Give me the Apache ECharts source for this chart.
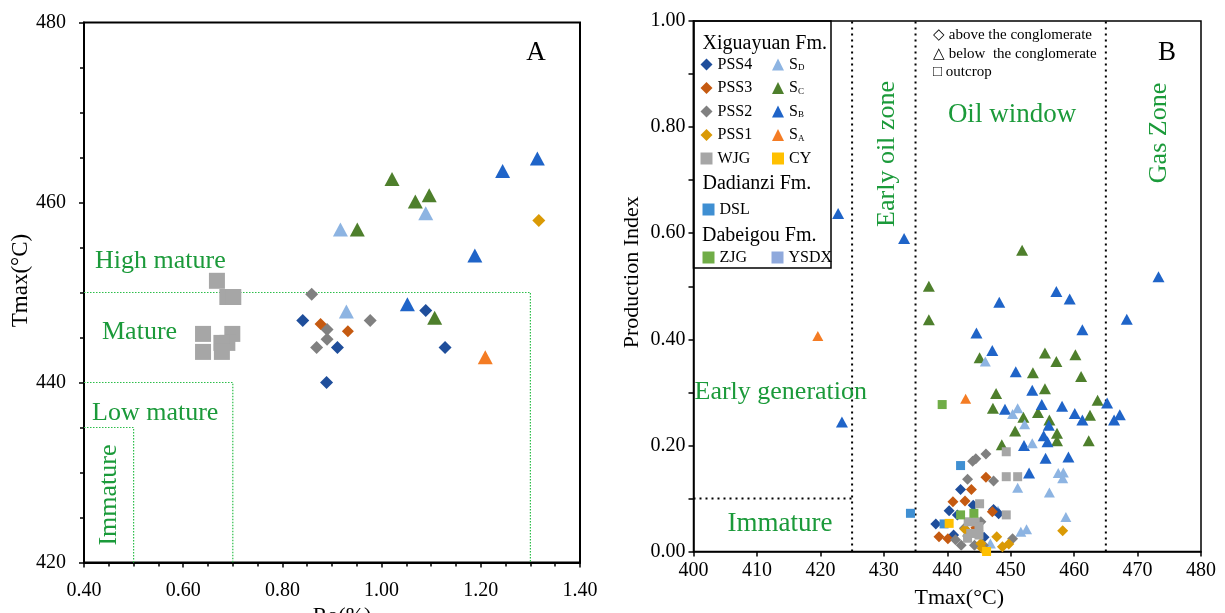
<!DOCTYPE html>
<html><head><meta charset="utf-8">
<script src="https://cdn.jsdelivr.net/npm/echarts@6/dist/echarts.min.js"></script>
<style>html,body{margin:0;padding:0;background:#fff}#c{width:1225px;height:613px}</style>
</head><body><div id="c"></div>
<script>
// ---------- Panel A data: [Ro(%), Tmax(°C)] ----------
const A_PSS4 = [[0.841,446.9],[0.889,440.0],[0.911,443.9],[1.089,448.0],[1.128,443.9]];
const A_PSS3 = [[0.877,446.5],[0.932,445.7]];
const A_PSS2 = [[0.859,449.8],[0.890,445.9],[0.890,444.8],[0.869,443.9],[0.977,446.9]];
const A_PSS1 = [[1.317,458.0]];
const A_SD = [[0.917,457.0],[0.929,447.9],[1.089,458.8]];
const A_SC = [[0.951,457.0],[1.021,462.6],[1.068,460.1],[1.096,460.8],[1.107,447.2]];
const A_SB = [[1.052,448.7],[1.188,454.1],[1.244,463.5],[1.314,464.9]];
const A_SA = [[1.209,442.8]];
const A_WJG = [[0.668,451.3],[0.689,449.5],[0.701,449.5],[0.640,445.4],[0.640,443.4],[0.699,445.4],[0.689,444.4],[0.677,444.4],[0.678,443.4]];

// ---------- Panel B data: [Tmax(°C), Production Index] ----------
const B_SB = [[422.8,0.637],[433.2,0.590],[423.4,0.244],[444.6,0.412],[447.1,0.379],[448.2,0.470],[450.8,0.339],[457.2,0.490],[459.3,0.476],[461.3,0.418],[468.3,0.438],[473.3,0.518],[453.4,0.304],[449.1,0.268],[454.9,0.277],[458.1,0.274],[460.1,0.260],[461.3,0.248],[465.2,0.280],[466.3,0.248],[467.2,0.258],[456.0,0.238],[455.2,0.218],[455.8,0.207],[452.1,0.200],[455.5,0.176],[459.1,0.178],[452.9,0.148]];
const B_SC = [[451.8,0.568],[437.1,0.500],[437.1,0.437],[445.1,0.365],[455.4,0.374],[457.2,0.358],[460.2,0.371],[453.5,0.337],[461.1,0.330],[447.7,0.298],[455.4,0.307],[447.2,0.270],[454.3,0.262],[452.0,0.253],[456.1,0.248],[463.7,0.285],[462.5,0.257],[450.7,0.227],[457.3,0.223],[457.3,0.209],[462.3,0.209],[448.6,0.201]];
const B_SD = [[446.0,0.358],[451.1,0.270],[450.3,0.259],[452.2,0.240],[453.4,0.204],[457.5,0.148],[458.3,0.149],[458.2,0.138],[451.1,0.120],[456.1,0.111],[458.7,0.065],[451.6,0.037],[452.5,0.042],[448.0,0.077],[446.8,0.015]];
const B_SA = [[419.6,0.406],[442.9,0.288]];
const B_PSS4 = [[442.1,0.117],[440.3,0.077],[438.2,0.052],[444.1,0.087],[447.3,0.079],[448.1,0.071],[441.0,0.031],[445.8,0.027],[441.6,0.069]];
const B_PSS3 = [[446.1,0.140],[443.8,0.117],[440.9,0.094],[442.8,0.095],[447.1,0.075],[438.7,0.028],[440.1,0.024],[444.5,0.045]];
const B_PSS2 = [[446.1,0.184],[444.0,0.170],[444.5,0.175],[443.2,0.136],[447.3,0.133],[441.3,0.022],[442.2,0.012],[443.2,0.029],[444.3,0.012],[442.7,0.044],[445.7,0.012],[450.3,0.024],[445.3,0.056]];
const B_PSS1 = [[458.2,0.039],[447.8,0.028],[448.7,0.009],[449.7,0.014],[442.8,0.042],[445.3,0.015],[445.5,0.006]];
const B_WJG = [[449.3,0.188],[449.3,0.141],[451.1,0.141],[445.1,0.090],[449.3,0.069],[444.4,0.056],[443.3,0.056],[443.7,0.034],[445.0,0.031],[443.2,0.025],[445.0,0.047]];
const B_ZJG = [[439.2,0.277],[442.1,0.069],[444.2,0.072]];
const B_DSL = [[442.1,0.162],[434.2,0.072],[439.5,0.052]];
const B_CY = [[446.2,0.0],[440.3,0.053]];
const B_YSDX = [];

// ---------- zone boundaries ----------
const A_ZONES = [
  [[0.4,435],[0.5,435],[0.5,420]],
  [[0.4,440],[0.7,440],[0.7,420]],
  [[0.4,450],[1.3,450],[1.3,420]]
];
const B_ZONES = [
  [[425,0],[425,1]],
  [[435,0],[435,1]],
  [[465,0],[465,1]],
  [[400,0.1],[425,0.1]]
];
// tick ranges
const A_X = {min:0.4, max:1.4, interval:0.2};
const A_Y = {min:420, max:480, interval:20};
const B_X = {min:400, max:480, interval:10};
const B_Y = {min:0, max:1, interval:0.2};

const COL = {
  PSS4:'#1F4E9B', PSS3:'#C55A11', PSS2:'#808080', PSS1:'#DA9A05', WJG:'#A6A6A6',
  SD:'#8DB4E2', SC:'#4E7F2C', SB:'#1F64C8', SA:'#F47C24', CY:'#FFC000',
  DSL:'#3F8FD2', ZJG:'#70AD47', YSDX:'#8FA9DC'
};
const FONT = 'Liberation Serif, Times New Roman, serif';
const GREEN = '#1B9A3A';

function sc(name, data, symbol, size, grid, z) {
  return {
    type:'scatter', name: name, data: data, symbol: symbol, symbolSize: size,
    xAxisIndex: grid, yAxisIndex: grid, z: z || 3, silent: true,
    itemStyle: {color: COL[name], opacity: 1}
  };
}
function guide(data, grid, style) {
  return {
    type:'line', data: data, xAxisIndex: grid, yAxisIndex: grid, symbol:'none',
    silent:true, z:1, lineStyle: style, animation:false
  };
}

const series = [];
A_ZONES.forEach(d => series.push(guide(d, 0, {color:'#2DBE4A', width:1.2, type:[1.5,1.5]})));
B_ZONES.forEach(d => series.push(guide(d, 1, {color:'#000', width:2, type:[2,4]})));

// Panel A
series.push(sc('WJG', A_WJG, 'rect', 16, 0, 3));
series.push(sc('SC', A_SC, 'triangle', [15,14], 0, 4));
series.push(sc('SB', A_SB, 'triangle', [15,14], 0, 4));
series.push(sc('SD', A_SD, 'triangle', [15,14], 0, 4));
series.push(sc('SA', A_SA, 'triangle', [15,14], 0, 4));
series.push(sc('PSS2', A_PSS2, 'diamond', 13, 0, 5));
series.push(sc('PSS4', A_PSS4, 'diamond', 13, 0, 5));
series.push(sc('PSS3', A_PSS3, 'diamond', 12, 0, 5));
series.push(sc('PSS1', A_PSS1, 'diamond', 13, 0, 5));

// Panel B
series.push(sc('SC', B_SC, 'triangle', [12,11], 1, 3));
series.push(sc('SB', B_SB, 'triangle', [12,11], 1, 3));
series.push(sc('SD', B_SD, 'triangle', [11,10], 1, 3));
series.push(sc('SA', B_SA, 'triangle', [11,10], 1, 3));
series.push(sc('PSS4', B_PSS4, 'diamond', 11, 1, 4));
series.push(sc('PSS3', B_PSS3, 'diamond', 11, 1, 4));
series.push(sc('PSS2', B_PSS2, 'diamond', 11, 1, 4));
series.push(sc('PSS1', B_PSS1, 'diamond', 11, 1, 4));
series.push(sc('WJG', B_WJG, 'rect', 9, 1, 5));
series.push(sc('ZJG', B_ZJG, 'rect', 9, 1, 5));
series.push(sc('DSL', B_DSL, 'rect', 9, 1, 5));
series.push(sc('CY', B_CY, 'rect', 9, 1, 5));
series.push(sc('YSDX', B_YSDX, 'rect', 9, 1, 5));

function axisCommon(extra) {
  return Object.assign({
    type:'value',
    axisLine:{show:true, onZero:false, lineStyle:{color:'#000', width:2}},
    axisTick:{show:true, inside:false, length:5, lineStyle:{color:'#000', width:1.5}},
    splitLine:{show:false},
    axisLabel:{fontFamily:FONT, fontSize:20, color:'#000'},
    nameLocation:'middle',
    nameTextStyle:{fontFamily:FONT, fontSize:22, color:'#000'}
  }, extra);
}

const legendBase = {
  orient:'vertical', padding:0, itemWidth:12, itemHeight:12, itemGap:7.5,
  selectedMode:false, z:20,
  textStyle:{fontFamily:FONT, fontSize:16, color:'#000',
    rich:{ m:{fontFamily:FONT, fontSize:16, color:'#000', verticalAlign:'bottom', lineHeight:16},
           s:{fontFamily:FONT, fontSize:9, color:'#000', verticalAlign:'bottom', lineHeight:12} } },
  formatter: n => (/^S[A-D]$/.test(n) ? '{m|S}{s|' + n[1] + '}' : n)
};
function lg(extra) { return Object.assign({}, legendBase, extra); }

function txt(text, x, y, size, color, opts) {
  return Object.assign({
    type:'text', x:x, y:y, silent:true, z:100,
    style:{text:text, fontFamily:FONT, fontSize:size, fill:color,
           align:(opts && opts.align) || 'left', verticalAlign:'middle'}
  }, opts && opts.rot ? {rotation: opts.rot} : {});
}

const option = {
  animation:false,
  backgroundColor:'#fff',
  grid:[
    {left:84, top:22.5, width:496, height:540, show:true, borderColor:'#000', borderWidth:2, backgroundColor:'transparent', containLabel:false, outerBoundsMode:'none'},
    {left:693.5, top:21, width:507.5, height:530.5, show:true, borderColor:'#000', borderWidth:1.5, backgroundColor:'transparent', containLabel:false, outerBoundsMode:'none'}
  ],
  xAxis:[
    axisCommon({gridIndex:0, min:A_X.min, max:A_X.max, interval:A_X.interval,
      minorTick:{show:true, splitNumber:4, length:4, lineStyle:{color:'#000', width:1.5}},
      axisLabel:{fontFamily:FONT, fontSize:20, color:'#000', margin:18, formatter:v=>v.toFixed(2)},
      name:'Ro(%)', nameGap:40, nameTextStyle:{fontFamily:FONT, fontSize:22, color:'#000', padding:[0,0,0,20]}}),
    axisCommon({gridIndex:1, min:B_X.min, max:B_X.max, interval:B_X.interval,
      axisLine:{show:true, onZero:false, lineStyle:{color:'#000', width:1.5}},
      axisLabel:{fontFamily:FONT, fontSize:20, color:'#000', margin:9},
      name:'Tmax(°C)', nameGap:36, nameTextStyle:{fontFamily:FONT, fontSize:22, color:'#000', padding:[0,0,0,24]}})
  ],
  yAxis:[
    axisCommon({gridIndex:0, min:A_Y.min, max:A_Y.max, interval:A_Y.interval,
      minorTick:{show:true, splitNumber:4, length:4, lineStyle:{color:'#000', width:1.5}},
      axisLabel:{fontFamily:FONT, fontSize:20, color:'#000', margin:18},
      name:'Tmax(°C)', nameGap:52, nameTextStyle:{fontFamily:FONT, fontSize:23, color:'#000', padding:[0,0,0,24]}}),
    axisCommon({gridIndex:1, min:B_Y.min, max:B_Y.max, interval:B_Y.interval,
      axisLine:{show:true, onZero:false, lineStyle:{color:'#000', width:1.5}},
      minorTick:{show:true, splitNumber:2, length:5, lineStyle:{color:'#000', width:1.5}},
      axisLabel:{fontFamily:FONT, fontSize:20, color:'#000', margin:8, formatter:v=>v.toFixed(2)},
      name:'Production Index', nameGap:50, nameTextStyle:{fontFamily:FONT, fontSize:22, color:'#000', padding:[0,0,0,28]}})
  ],
  legend:[
    lg({left:700.5, top:56.5, data:[{name:'PSS4',icon:'diamond'},{name:'PSS3',icon:'diamond'},{name:'PSS2',icon:'diamond'},{name:'PSS1',icon:'diamond'},{name:'WJG',icon:'rect'}]}),
    lg({left:772, top:56.5, data:[{name:'SD',icon:'triangle'},{name:'SC',icon:'triangle'},{name:'SB',icon:'triangle'},{name:'SA',icon:'triangle'},{name:'CY',icon:'rect'}]}),
    lg({left:702.5, top:201.5, data:[{name:'DSL',icon:'rect'}]}),
    lg({left:702.5, top:249.5, data:[{name:'ZJG',icon:'rect'}]}),
    lg({left:771.5, top:249.5, data:[{name:'YSDX',icon:'rect'}]})
  ],
  graphic:[
    {type:'rect', shape:{x:693.5, y:21, width:137.5, height:247}, style:{fill:'none', stroke:'#000', lineWidth:1.5}, z:10, silent:true},
    txt('Xiguayuan Fm.', 702.5, 43.5, 20, '#000'),
    txt('Dadianzi Fm.', 702.5, 183.5, 20, '#000'),
    txt('Dabeigou Fm.', 702, 236, 20, '#000'),
    txt('\u25C7 above the conglomerate', 933, 35.5, 15, '#000'),
    txt('\u25B3 below  the conglomerate', 933, 54, 15, '#000'),
    txt('\u25A1 outcrop', 933, 72.5, 15, '#000'),
    // Panel A labels
    txt('A', 536, 53, 27, '#000', {align:'center'}),
    txt('High mature', 95, 261.5, 26, GREEN),
    txt('Mature', 102, 332, 26, GREEN),
    txt('Low mature', 92, 413, 26, GREEN),
    txt('Immature', 109, 495, 26, GREEN, {align:'center', rot:Math.PI/2}),
    // Panel B labels
    txt('B', 1167, 53, 27, '#000', {align:'center'}),
    txt('Early oil zone', 887, 154, 26, GREEN, {align:'center', rot:Math.PI/2}),
    txt('Oil window', 1012, 115, 27, GREEN, {align:'center'}),
    txt('Gas Zone', 1159, 133, 26, GREEN, {align:'center', rot:Math.PI/2}),
    txt('Early generation', 694.5, 392.5, 26, GREEN),
    txt('Immature', 780, 523.5, 27, GREEN, {align:'center'})
  ],
  series: series
};
const chart = echarts.init(document.getElementById('c'), null, {renderer:'canvas'});
chart.setOption(option);
</script></body></html>
